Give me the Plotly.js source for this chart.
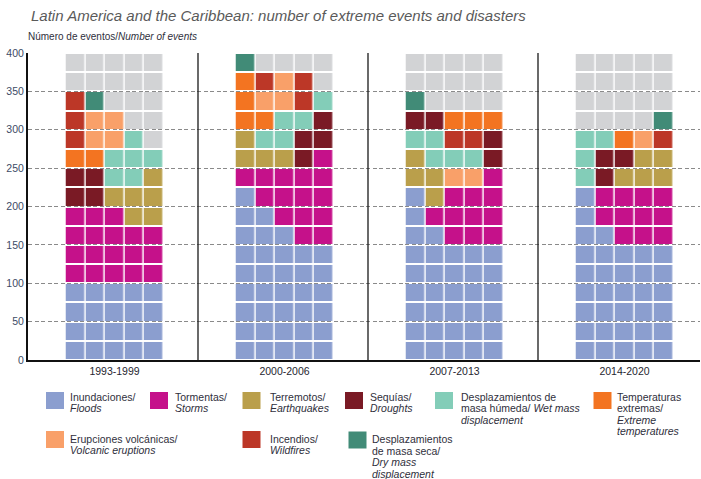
<!DOCTYPE html>
<html>
<head>
<meta charset="utf-8">
<script src="https://cdn.plot.ly/plotly-3.0.1.min.js"></script>
<style>html,body{margin:0;padding:0;background:#fff;}#chart{width:701px;height:479px;}</style>
</head>
<body>
<div id="chart"></div>
<script>
// ---------------- DATA ----------------
// Each cell = 5 events; each row = 25 events; rows listed from bottom (0) to top (400)
const periods = ["1993-1999", "2000-2006", "2007-2013", "2014-2020"];
const categoryCodes = ["F", "S", "E", "D", "W", "T", "V", "I", "M", "."];
const categoryColors = ["#8b9ecf", "#c5118a", "#ba9f4b", "#7a1a25", "#83cdb8", "#f37421", "#f9a069", "#bc3727", "#418b77", "#d2d3d5"];
const categoryLabels = [
  ["Inundaciones/", "<i>Floods</i>"],
  ["Tormentas/", "<i>Storms</i>"],
  ["Terremotos/", "<i>Earthquakes</i>"],
  ["Sequías/", "<i>Droughts</i>"],
  ["Desplazamientos de", "masa húmeda/ <i>Wet mass</i>", "<i>displacement</i>"],
  ["Temperaturas", "extremas/", "<i>Extreme</i>", "<i>temperatures</i>"],
  ["Erupciones volcánicas/", "<i>Volcanic eruptions</i>"],
  ["Incendios/", "<i>Wildfires</i>"],
  ["Desplazamientos", "de masa seca/", "<i>Dry mass</i>", "<i>displacement</i>"]
];
const grid1993_1999 = ["FFFFF","FFFFF","FFFFF","FFFFF","SSSSS","SSSSS","SSSSS","SSSEE","DDEEE","DDWWE","TTWWW","IVVW.","IVV..","IM...",".....","....."];
const grid2000_2006 = ["FFFFF","FFFFF","FFFFF","FFFFF","FFFFF","FFFFF","FFFSS","FFSSS","FSSSS","SSSSS","EEEDS","EWWDD","TTWWD","TVVIW","TIVI.","M...."];
const grid2007_2013 = ["FFFFF","FFFFF","FFFFF","FFFFF","FFFFF","FFFFF","FFSSS","FSSSS","FESSS","EEVVS","EWWWD","WWIID","DDTTT","M....",".....","....."];
const grid2014_2020 = ["FFFFF","FFFFF","FFFFF","FFFFF","FFFFF","FFFFF","FFSSS","FSSSS","FSSSS","WDEEE","WDDEE","WWTVI","....M",".....",".....","....."];
const eventsPerRow = 25;
const yTicks = [0, 50, 100, 150, 200, 250, 300, 350, 400];

// ---------------- LAYOUT HELPERS ----------------
const W = 701, H = 479;
const M = {l: 28, r: 1, t: 53, b: 119};
const plotW = W - M.l - M.r, plotH = H - M.t - M.b;
const sectionPx = 170;
const xMax = plotW / sectionPx;
const cellW = 19.5 / sectionPx;
const blockOffset = 1.5 / sectionPx;
const px2x = px => (px - M.l) / plotW;
const py2y = py => (M.t + plotH - py) / plotH;

const grids = [grid1993_1999, grid2000_2006, grid2007_2013, grid2014_2020];
const n = categoryCodes.length;
const colorscale = [];
categoryColors.forEach((c, k) => { colorscale.push([k / n, c]); colorscale.push([(k + 1) / n, c]); });

const traces = grids.map((grid, p) => {
  const ncol = grid[0].length;
  const center = p + 0.5 + blockOffset;
  const xs = [];
  for (let c = 0; c < ncol; c++) xs.push(center + (c - (ncol - 1) / 2) * cellW);
  const ys = grid.map((_, r) => (r + 0.5) * eventsPerRow);
  const z = grid.map(row => row.split("").map(ch => categoryCodes.indexOf(ch)));
  return {
    type: "heatmap", x: xs, y: ys, z: z,
    colorscale: colorscale, zmin: -0.5, zmax: n - 0.5,
    showscale: false, xgap: 1.5, ygap: 2, hoverinfo: "skip"
  };
});

// legend slots (square left/top px, text left px, first-line centre px)
const legendSlots = [
  {sx: 46, sy: 392, tx: 70, ty: 397},
  {sx: 150, sy: 392, tx: 175, ty: 397},
  {sx: 242.5, sy: 392, tx: 269.5, ty: 397},
  {sx: 345, sy: 392, tx: 369.5, ty: 397},
  {sx: 435, sy: 392, tx: 461, ty: 397},
  {sx: 593.5, sy: 392, tx: 617, ty: 397},
  {sx: 46, sy: 431, tx: 70, ty: 439},
  {sx: 242.5, sy: 431, tx: 269.5, ty: 439},
  {sx: 348.5, sy: 431.5, tx: 372, ty: 439.5}
];
const lineStep = 11.4;
const txtFont = {family: "Liberation Sans, Arial, sans-serif", size: 10.5, color: "#2f2f3c"};

const shapes = [];
const annotations = [];
[1, 2, 3].forEach(b => shapes.push({type: "line", xref: "x", yref: "y", x0: b, x1: b, y0: 0, y1: 400, line: {color: "#1a1a1a", width: 1.3}}));
categoryLabels.forEach((lines, k) => {
  const s = legendSlots[k];
  shapes.push({type: "rect", xref: "paper", yref: "paper",
    x0: px2x(s.sx), x1: px2x(s.sx + 18), y0: py2y(s.sy + 17), y1: py2y(s.sy),
    fillcolor: categoryColors[k], line: {width: 0}});
  lines.forEach((t, i) => annotations.push({
    xref: "paper", yref: "paper", x: px2x(s.tx - 1), y: py2y(s.ty + i * lineStep),
    xanchor: "left", yanchor: "middle", showarrow: false, text: t, font: txtFont, borderpad: 0
  }));
});
annotations.push({
  xref: "paper", yref: "paper", x: px2x(27), y: py2y(36.5), xanchor: "left", yanchor: "middle",
  showarrow: false, borderpad: 0, text: "Número de eventos/<i>Number of events</i>",
  font: {family: "Liberation Sans, Arial, sans-serif", size: 10, color: "#2f2f3c"}
});

const layout = {
  width: W, height: H, margin: M,
  paper_bgcolor: "#fff", plot_bgcolor: "#fff",
  showlegend: false,
  title: {
    text: "Latin America and the Caribbean: number of extreme events and disasters",
    xref: "container", yref: "container", x: 31 / W, xanchor: "left", y: 1 - 16 / H, yanchor: "middle",
    font: {family: "Liberation Sans, Arial, sans-serif", size: 15, color: "#5a5a5a", style: "italic"}
  },
  xaxis: {
    range: [0, xMax], tickvals: periods.map((_, i) => i + 0.5 + blockOffset), ticktext: periods,
    showgrid: false, zeroline: false, showline: true, linecolor: "#111", linewidth: 2,
    ticks: "", tickfont: {family: "Liberation Sans, Arial, sans-serif", size: 10.5, color: "#262630"},
    fixedrange: true
  },
  yaxis: {
    range: [0, 400], tickvals: yTicks, ticktext: yTicks.map(String),
    showgrid: true, gridcolor: "#8a8a8a", gridwidth: 1, griddash: "4px,2.5px",
    zeroline: false, showline: true, linecolor: "#111", linewidth: 2,
    ticks: "", tickfont: {family: "Liberation Sans, Arial, sans-serif", size: 10.5, color: "#3d4b66"},
    fixedrange: true
  },
  shapes: shapes,
  annotations: annotations
};

Plotly.newPlot("chart", traces, layout, {displayModeBar: false, staticPlot: true});
</script>
</body>
</html>
